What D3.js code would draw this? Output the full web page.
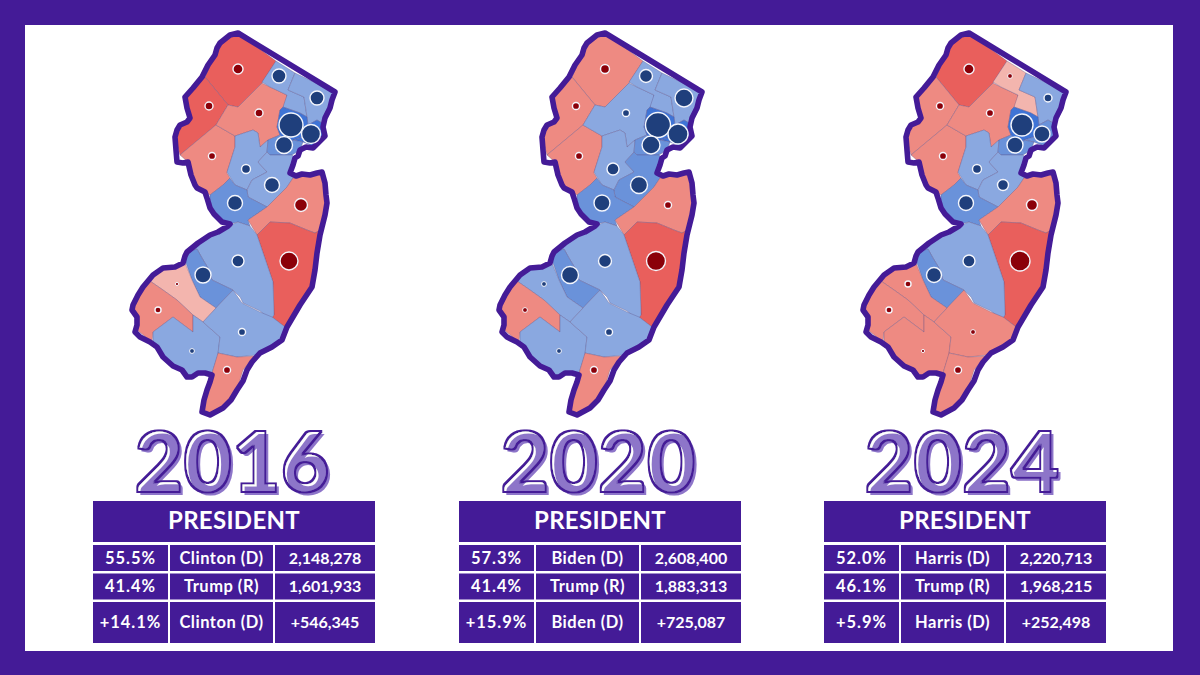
<!DOCTYPE html>
<html>
<head>
<meta charset="utf-8">
<title>New Jersey president 2016 2020 2024</title>
<script src="https://d3js.org/d3.v7.min.js"></script>
<style>
  html, body { margin: 0; padding: 0; background: #441b97; }
  svg { display: block; }
  text { font-family: Lato, "Open Sans", sans-serif; }
</style>
</head>
<body>
<div id="chart"></div>
<script>
// election results, one small list per thing
const years = ["2016", "2020", "2024"];
const winners = ["Clinton (D)", "Biden (D)", "Harris (D)"];
const demPct = ["55.5%", "57.3%", "52.0%"];
const demVotes = ["2,148,278", "2,608,400", "2,220,713"];
const gopPct = ["41.4%", "41.4%", "46.1%"];
const gopVotes = ["1,601,933", "1,883,313", "1,968,215"];
const marginPct = ["+14.1%", "+15.9%", "+5.9%"];
const marginVotes = ["+546,345", "+725,087", "+252,498"];

const counties = ["Sussex","Warren","Hunterdon","Morris","Somerset","Passaic","Bergen","Essex","Hudson","Union","Middlesex","Mercer","Monmouth","Ocean","Burlington","Camden","Gloucester","Salem","Cumberland","Atlantic","Cape May"];

// margin class per county, same order as counties
// S strong R, L lean R, P pale R, a light D, b mid D, c deep D
const class2016 = ["S","S","L","L","a","a","a","c","c","b","a","b","L","S","a","b","P","L","a","a","L"];
const class2020 = ["L","L","L","a","a","a","a","c","c","b","b","b","L","S","a","b","a","L","a","a","L"];
const class2024 = ["S","L","L","L","a","P","a","c","b","b","a","b","L","S","a","b","L","L","L","L","L"];

// rough county vote margin in thousands, read from the bubbles
const margin2016 = [30,19,15,19,24,58,58,171,107,86,67,67,50,96,43,76,3,11,7,15,15];
const margin2020 = [24,15,15,15,43,50,96,186,119,96,86,76,15,107,50,86,7,7,7,15,15];
const margin2024 = [30,15,15,15,24,7,19,144,76,76,36,67,36,119,43,67,11,11,3,7,15];

// county shapes in map units (projected plane, the 2016 panel frame)
const shapes = {
  "Sussex": [[238,33],[276,61],[262,83],[247,98],[238,107],[228,105],[205,77],[215,55],[220,43],[230,35]],
  "Warren": [[205,77],[228,105],[216,125],[180,155],[175,137],[180,125],[190,118],[185,97],[202,77]],
  "Hunterdon": [[216,125],[235,136],[235,147],[227,173],[230,178],[223,185],[210,195],[195,185],[188,162],[180,155]],
  "Morris": [[228,105],[238,107],[247,98],[262,83],[270,87],[287,95],[287,103],[280,110],[277,127],[280,135],[268,140],[260,147],[258,133],[253,130],[235,136],[216,125]],
  "Somerset": [[235,136],[253,130],[258,133],[260,147],[268,140],[267,152],[258,162],[267,172],[252,180],[247,190],[235,185],[227,172],[235,147]],
  "Passaic": [[276,61],[295,73],[288,90],[304,97],[307,117],[300,113],[283,107],[287,95],[270,87],[262,82]],
  "Bergen": [[295,73],[335,92],[330,108],[322,123],[317,120],[308,125],[307,117],[304,97],[288,90]],
  "Essex": [[283,107],[300,113],[307,117],[308,125],[303,137],[293,140],[290,145],[280,135],[277,127],[280,110]],
  "Hudson": [[308,125],[317,120],[322,123],[323,135],[313,146],[303,142],[293,140],[303,137]],
  "Union": [[280,135],[290,145],[293,140],[303,142],[300,150],[292,155],[270,155],[267,152],[268,140]],
  "Middlesex": [[267,152],[270,155],[292,155],[295,158],[290,173],[293,178],[287,187],[267,207],[248,197],[247,190],[252,180],[267,172],[258,162]],
  "Mercer": [[210,195],[223,185],[230,178],[235,185],[247,190],[248,197],[267,207],[248,220],[250,226],[238,222],[230,224],[222,222],[214,214],[210,200]],
  "Monmouth": [[293,178],[317,173],[322,172],[325,183],[327,203],[322,227],[320,232],[315,233],[307,230],[290,223],[270,222],[257,235],[248,220],[267,207],[287,187]],
  "Ocean": [[257,235],[270,222],[290,223],[307,230],[315,233],[320,230],[317,253],[312,287],[285,327],[272,317],[274,315],[273,282]],
  "Burlington": [[183,255],[210,235],[228,226],[238,222],[250,226],[257,235],[273,282],[274,315],[272,318],[267,317],[260,311],[243,303],[240,297],[233,290],[212,280],[208,268],[202,258],[197,249],[185,253]],
  "Camden": [[185,253],[197,249],[202,258],[208,268],[212,280],[233,290],[216,308],[200,297],[192,280],[186,263]],
  "Gloucester": [[150,281],[163,268],[185,263],[192,280],[200,297],[216,308],[203,322],[193,315],[177,300],[163,290]],
  "Salem": [[150,281],[163,290],[177,300],[193,315],[193,332],[173,317],[153,332],[152,342],[137,330],[135,317],[133,305],[143,287]],
  "Cumberland": [[153,332],[173,317],[193,332],[193,315],[203,322],[220,337],[218,355],[212,373],[198,373],[187,377],[180,370],[163,357],[153,343]],
  "Atlantic": [[203,322],[216,308],[233,290],[242,303],[260,312],[272,317],[285,327],[280,340],[257,355],[237,357],[218,353],[220,337]],
  "Cape May": [[218,353],[237,357],[255,356],[243,370],[237,390],[223,408],[210,415],[203,412],[207,390],[212,373]]
};

const statePts = [[238,33],[335,92],[332,100],[330,108],[325,118],[323,127],[325,136],[318,143],[313,148],[306,147],[300,150],[298,156],[295,158],[293,165],[290,173],[296,176],[302,174],[310,175],[317,173],[322,172],[325,183],[326,195],[327,203],[325,215],[322,227],[320,235],[317,253],[315,270],[312,287],[300,305],[287,327],[282,340],[272,347],[260,353],[252,362],[247,370],[243,381],[237,390],[231,400],[223,408],[210,415],[202,412],[204,400],[207,390],[210,382],[212,375],[205,373],[198,373],[192,377],[187,377],[182,370],[173,366],[163,357],[157,347],[150,342],[140,337],[135,332],[137,325],[137,317],[132,310],[133,305],[138,295],[143,287],[148,281],[153,275],[163,268],[175,267],[183,263],[185,256],[187,252],[198,243],[210,235],[218,232],[228,226],[230,224],[222,222],[214,214],[210,208],[207,198],[205,192],[197,188],[195,185],[191,175],[188,162],[183,163],[177,162],[176,150],[175,137],[177,130],[180,125],[187,122],[190,118],[187,108],[185,97],[193,88],[202,77],[208,65],[215,55],[217,48],[220,43],[230,35]];

// bubble anchor per county, same order as counties
const anchors = [[238,69],[209,106],[212,156],[259,113],[246,169],[279,76],[317,98],[291,125],[311,134],[284,145],[272,185],[235,203],[301,205],[289,261],[238,261],[203,275],[177,284],[158,310],[192,351],[242,332],[227,370]];

const classes = [class2016, class2020, class2024];
const margins = [margin2016, margin2020, margin2024];

const classColor = { S: "#e95f5c", L: "#ee8a82", P: "#f3b5ae", a: "#8aa8e0", b: "#6a92da", c: "#3f74d6" };
const purple = "#441b97";
const lilac = "#8d74c9";

// layout per panel
const mapShift = [0, 367, 731];
const titleX = [232, 598, 962];
const tableX = [93, 459, 824];
const colEdges = [0, 75, 77, 180, 182, 282];
const rowEdges = [[501, 542], [545, 571], [573.5, 599.5], [602, 643]];
const colFont = [16.5, 16.5, 16];
const colSpacing = [1, 0.5, 0];

const svg = d3.select("#chart").append("svg").attr("width", 1200).attr("height", 675);

// one text element per year title, the filter builds the shadow and outline
const filter = svg.append("defs").append("filter")
  .attr("id", "year-title")
  .attr("x", "-5%").attr("y", "-5%").attr("width", "110%").attr("height", "115%");
filter.append("feFlood").attr("flood-color", lilac).attr("result", "lil");
filter.append("feOffset").attr("in", "SourceAlpha").attr("dx", 3).attr("dy", 3).attr("result", "off");
filter.append("feComposite").attr("in", "lil").attr("in2", "off").attr("operator", "in").attr("result", "shadow");
filter.append("feMorphology").attr("in", "SourceAlpha").attr("operator", "dilate").attr("radius", 1.3).attr("result", "fat");
filter.append("feMorphology").attr("in", "SourceAlpha").attr("operator", "erode").attr("radius", 1.1).attr("result", "thin");
filter.append("feComposite").attr("in", "fat").attr("in2", "thin").attr("operator", "out").attr("result", "ring");
filter.append("feFlood").attr("flood-color", purple).attr("result", "dark");
filter.append("feComposite").attr("in", "dark").attr("in2", "ring").attr("operator", "in").attr("result", "outline");
const merge = filter.append("feMerge");
merge.append("feMergeNode").attr("in", "SourceGraphic");
merge.append("feMergeNode").attr("in", "shadow");
merge.append("feMergeNode").attr("in", "outline");

svg.append("rect").attr("width", 1200).attr("height", 675).attr("fill", purple);
svg.append("rect").attr("x", 25).attr("y", 25).attr("width", 1148).attr("height", 626).attr("fill", "#fff");

const radius = d3.scaleSqrt().domain([0, 180]).range([0, 12.3]);

function drawMap(i) {
  const proj = d3.geoIdentity().translate([mapShift[i], 0]);
  const path = d3.geoPath(proj);
  const g = svg.append("g").attr("class", "map-" + years[i]);

  const features = counties.map((name, k) => ({
    type: "Feature",
    properties: { name: name, cls: classes[i][k] },
    geometry: { type: "Polygon", coordinates: [shapes[name].concat([shapes[name][0]])] }
  }));

  g.selectAll(".county")
    .data(features)
    .join("path")
    .attr("class", "county")
    .attr("d", path)
    .attr("fill", d => classColor[d.properties.cls])
    .attr("stroke", "#5a4a80")
    .attr("stroke-opacity", 0.55)
    .attr("stroke-width", 0.6)
    .attr("stroke-linejoin", "round");

  g.append("path")
    .datum({ type: "Polygon", coordinates: [statePts.concat([statePts[0]])] })
    .attr("d", path)
    .attr("fill", "none")
    .attr("stroke", purple)
    .attr("stroke-width", 5.6)
    .attr("stroke-linejoin", "round");

  g.selectAll(".bubble")
    .data(counties.map((name, k) => ({ name: name, at: anchors[k], v: margins[i][k], cls: classes[i][k] })))
    .join("circle")
    .attr("class", "bubble")
    .attr("cx", d => proj(d.at)[0])
    .attr("cy", d => proj(d.at)[1])
    .attr("r", d => radius(d.v))
    .attr("fill", d => "SLP".includes(d.cls) ? "#8b0009" : "#1f3f7c")
    .attr("stroke", "#f4f6fc")
    .attr("stroke-width", d => radius(d.v) < 3 ? 1 : 1.4);
}

function drawTitle(i) {
  svg.append("text")
    .attr("class", "title")
    .attr("x", titleX[i]).attr("y", 492)
    .attr("font-size", 84).attr("font-weight", 900).attr("text-anchor", "middle")
    .attr("fill", "#fff")
    .attr("filter", "url(#year-title)")
    .text(years[i]);
}

function drawTable(i) {
  const x0 = tableX[i];
  const g = svg.append("g").attr("class", "table");
  g.append("rect").attr("x", x0).attr("y", rowEdges[0][0])
    .attr("width", colEdges[5]).attr("height", rowEdges[0][1] - rowEdges[0][0]).attr("fill", purple);
  g.append("text").attr("x", x0 + colEdges[5] / 2).attr("y", 529)
    .attr("text-anchor", "middle").attr("fill", "#fff")
    .attr("font-size", 24).attr("font-weight", 700).attr("letter-spacing", 0.3).text("PRESIDENT");

  const rows = [
    [demPct[i], winners[i], demVotes[i]],
    [gopPct[i], "Trump (R)", gopVotes[i]],
    [marginPct[i], winners[i], marginVotes[i]]
  ];
  rows.forEach((row, r) => {
    const [top, bottom] = rowEdges[r + 1];
    row.forEach((txt, c) => {
      const left = x0 + colEdges[c * 2], right = x0 + colEdges[c * 2 + 1];
      g.append("rect").attr("x", left).attr("y", top)
        .attr("width", right - left).attr("height", bottom - top).attr("fill", purple);
      g.append("text").attr("x", (left + right) / 2).attr("y", (top + bottom) / 2 + 5.5)
        .attr("text-anchor", "middle").attr("fill", "#fff")
        .attr("font-size", colFont[c]).attr("font-weight", 700)
        .attr("letter-spacing", colSpacing[c]).text(txt);
    });
  });
}

years.forEach((y, i) => {
  drawMap(i);
  drawTitle(i);
  drawTable(i);
});
</script>
</body>
</html>
